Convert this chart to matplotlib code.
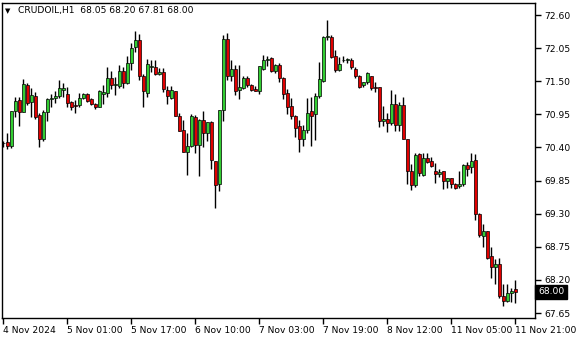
import matplotlib
matplotlib.use("Agg")
import matplotlib.pyplot as plt
import numpy as np

# --- CRUDOIL H1 candles ---
opens = [
    70.48, 70.49, 70.42, 71.00, 71.19, 70.99, 71.44, 71.16, 71.25, 70.94,
    70.54, 70.99, 71.20, 71.23, 71.25, 71.35, 71.28, 71.15, 71.10, 71.10,
    71.23, 71.29, 71.20, 71.13, 71.08, 71.28, 71.30, 71.55, 71.43, 71.42,
    71.67, 71.47, 71.81, 72.07, 72.18, 71.59, 71.30, 71.74, 71.73, 71.62,
    71.65, 71.35, 71.23, 71.33, 70.93, 70.69, 70.33, 70.43, 70.90, 70.44,
    70.85, 70.64, 70.82, 70.18, 69.79, 71.03, 72.20, 71.59, 71.70, 71.36,
    71.38, 71.56, 71.43, 71.37, 71.34, 71.71, 71.86, 71.88, 71.67, 71.77,
    71.56, 71.30, 71.09, 70.92, 70.76, 70.54, 70.69, 71.01, 70.95, 71.25,
    71.50, 72.24, 72.24, 71.92, 71.68, 71.86, 71.86, 71.86, 71.71, 71.58,
    71.43, 71.48, 71.58, 71.41, 71.40, 70.84, 70.88, 70.80, 71.12, 70.77,
    71.10, 70.54, 70.01, 69.77, 70.29, 69.95, 70.22, 70.17, 70.01, 69.96,
    70.01, 69.85, 69.89, 69.80, 69.76, 69.80, 70.11, 70.07, 70.19, 69.29,
    68.93, 69.01, 68.60, 68.42, 68.46, 67.93, 67.85, 67.99, 68.05]

highs = [
    70.51, 70.64, 71.00, 71.24, 71.24, 71.54, 71.47, 71.38, 71.32, 70.97,
    71.02, 71.23, 71.28, 71.34, 71.52, 71.47, 71.40, 71.18, 71.19, 71.30,
    71.31, 71.31, 71.22, 71.14, 71.35, 71.44, 71.74, 71.67, 71.57, 71.77,
    71.73, 71.92, 72.13, 72.33, 72.28, 71.62, 71.87, 71.85, 71.85, 71.72,
    71.72, 71.42, 71.42, 71.34, 70.98, 70.85, 70.64, 70.95, 70.94, 70.87,
    71.00, 70.83, 70.84, 70.18, 71.02, 72.27, 72.30, 71.85, 71.77, 71.77,
    71.59, 71.59, 71.45, 71.42, 71.75, 71.94, 71.92, 71.90, 71.78, 71.80,
    71.57, 71.37, 71.23, 70.94, 70.86, 70.77, 71.23, 71.24, 71.30, 71.82,
    72.25, 72.52, 72.27, 72.02, 71.90, 71.92, 71.89, 71.88, 71.74, 71.60,
    71.49, 71.65, 71.59, 71.49, 71.41, 71.09, 70.97, 71.35, 71.28, 71.15,
    71.24, 70.54, 70.12, 70.31, 70.31, 70.30, 70.30, 70.24, 70.15, 70.05,
    70.01, 69.90, 69.90, 69.81, 70.01, 70.13, 70.16, 70.30, 70.29, 69.31,
    69.13, 69.01, 68.75, 68.55, 68.56, 68.14, 68.14, 68.06, 68.20]

lows = [
    70.41, 70.38, 70.39, 70.91, 70.76, 70.99, 71.10, 70.91, 70.87, 70.40,
    70.50, 70.84, 71.08, 71.14, 71.22, 71.24, 71.08, 71.02, 70.98, 71.08,
    71.20, 71.16, 71.11, 71.04, 71.08, 71.13, 71.24, 71.37, 71.27, 71.39,
    71.39, 71.45, 71.69, 71.99, 71.52, 71.08, 71.24, 71.66, 71.60, 71.60,
    71.32, 71.13, 71.20, 70.93, 70.68, 70.33, 69.94, 70.40, 70.30, 69.93,
    70.41, 70.51, 70.04, 69.40, 69.68, 70.84, 71.52, 71.51, 71.27, 71.20,
    71.37, 71.41, 71.34, 71.33, 71.28, 71.69, 71.75, 71.66, 71.63, 71.48,
    71.20, 70.95, 70.87, 70.57, 70.33, 70.42, 70.64, 70.42, 70.52, 71.23,
    71.49, 72.18, 71.88, 71.66, 71.67, 71.82, 71.81, 71.71, 71.56, 71.39,
    71.41, 71.46, 71.35, 71.32, 70.74, 70.76, 70.66, 70.77, 70.67, 70.67,
    70.54, 69.80, 69.70, 69.75, 69.93, 69.93, 70.15, 70.08, 69.81, 69.91,
    69.71, 69.72, 69.72, 69.71, 69.72, 69.76, 69.93, 69.97, 69.19, 68.92,
    68.75, 68.54, 68.23, 68.14, 67.90, 67.77, 67.84, 67.84, 67.81]

closes = [
    70.47, 70.42, 71.00, 71.18, 70.99, 71.45, 71.14, 71.27, 70.91, 70.54,
    70.99, 71.20, 71.23, 71.25, 71.38, 71.39, 71.14, 71.08, 71.09, 71.23,
    71.29, 71.18, 71.13, 71.08, 71.34, 71.32, 71.55, 71.43, 71.45, 71.67,
    71.47, 71.81, 72.06, 72.18, 71.58, 71.34, 71.78, 71.76, 71.62, 71.65,
    71.37, 71.25, 71.35, 70.93, 70.68, 70.33, 70.43, 70.92, 70.44, 70.85,
    70.64, 70.82, 70.19, 69.77, 71.02, 72.20, 71.58, 71.71, 71.34, 71.40,
    71.56, 71.44, 71.35, 71.34, 71.75, 71.86, 71.87, 71.67, 71.77, 71.55,
    71.29, 71.08, 70.93, 70.73, 70.54, 70.69, 70.98, 70.93, 71.25, 71.53,
    72.23, 72.25, 71.91, 71.68, 71.78, 71.86, 71.87, 71.73, 71.58, 71.41,
    71.48, 71.63, 71.38, 71.38, 70.84, 70.88, 70.80, 71.13, 70.77, 71.10,
    70.54, 70.01, 69.77, 70.27, 69.97, 70.22, 70.16, 70.10, 69.96, 70.00,
    69.85, 69.90, 69.80, 69.72, 69.80, 70.11, 70.05, 70.17, 69.29, 68.95,
    69.01, 68.57, 68.42, 68.46, 67.93, 67.85, 67.99, 68.02, 68.00]

price_ticks = [72.60, 72.05, 71.50, 70.95, 70.40, 69.85, 69.30, 68.75, 68.20, 67.65]
time_labels = ["4 Nov 2024", "5 Nov 01:00", "5 Nov 17:00", "6 Nov 10:00",
               "7 Nov 03:00", "7 Nov 19:00", "8 Nov 12:00", "11 Nov 05:00",
               "11 Nov 21:00"]
time_label_bars = [0, 16, 32, 48, 64, 80, 96, 112, 128]
symbol = "CRUDOIL,H1"

o = np.array(opens)
h = np.array(highs)
l = np.array(lows)
c = np.array(closes)
x = np.arange(len(o))

fig = plt.figure(figsize=(5.8, 3.4), dpi=100)
ax = fig.add_axes([2 / 580, 22 / 340, 533 / 580, 315 / 340])

up = c >= o
body_bottom = np.minimum(o, c)
body_height = np.abs(c - o)

# wicks, then bodies on top
ax.vlines(x, l, h, color="black", lw=1, zorder=1)
ax.bar(x[up], body_height[up], bottom=body_bottom[up], width=0.62,
       color="#32cd32", edgecolor="black", linewidth=0.5, zorder=2)
ax.bar(x[~up], body_height[~up], bottom=body_bottom[~up], width=0.62,
       color="#e00000", edgecolor="black", linewidth=0.5, zorder=2)

ax.set_xlim(-0.33, 132.9)
ax.set_ylim(67.567, 72.80)

for s in ax.spines.values():
    s.set_color("black")
    s.set_linewidth(1)

ax.yaxis.tick_right()
ax.set_yticks(price_ticks)
ax.set_yticklabels([f"{p:.2f}" for p in price_ticks])
ax.set_xticks(time_label_bars)
ax.set_xticklabels(time_labels, ha="left")
ax.tick_params(axis="both", direction="out", length=4, width=1,
               labelsize=6.6, colors="black", pad=2)
ax.tick_params(axis="y", pad=3)

# header
ax.text(0.006, 0.975, "\u25bc", transform=ax.transAxes, fontsize=5,
        va="center", ha="left")
hdr = f"{symbol}  {opens[-1]:.2f} {highs[-1]:.2f} {lows[-1]:.2f} {closes[-1]:.2f}"
ax.text(0.03, 0.975, hdr, transform=ax.transAxes, fontsize=6.6,
        va="center", ha="left", color="black")

# current price label
ax.text(1.006, closes[-1], f"{closes[-1]:.2f}", transform=ax.get_yaxis_transform(),
        fontsize=6.6, color="white", va="center", ha="left",
        bbox=dict(boxstyle="square,pad=0.3", fc="black", ec="black"))

fig.savefig("out.png", dpi=100, facecolor="white")
